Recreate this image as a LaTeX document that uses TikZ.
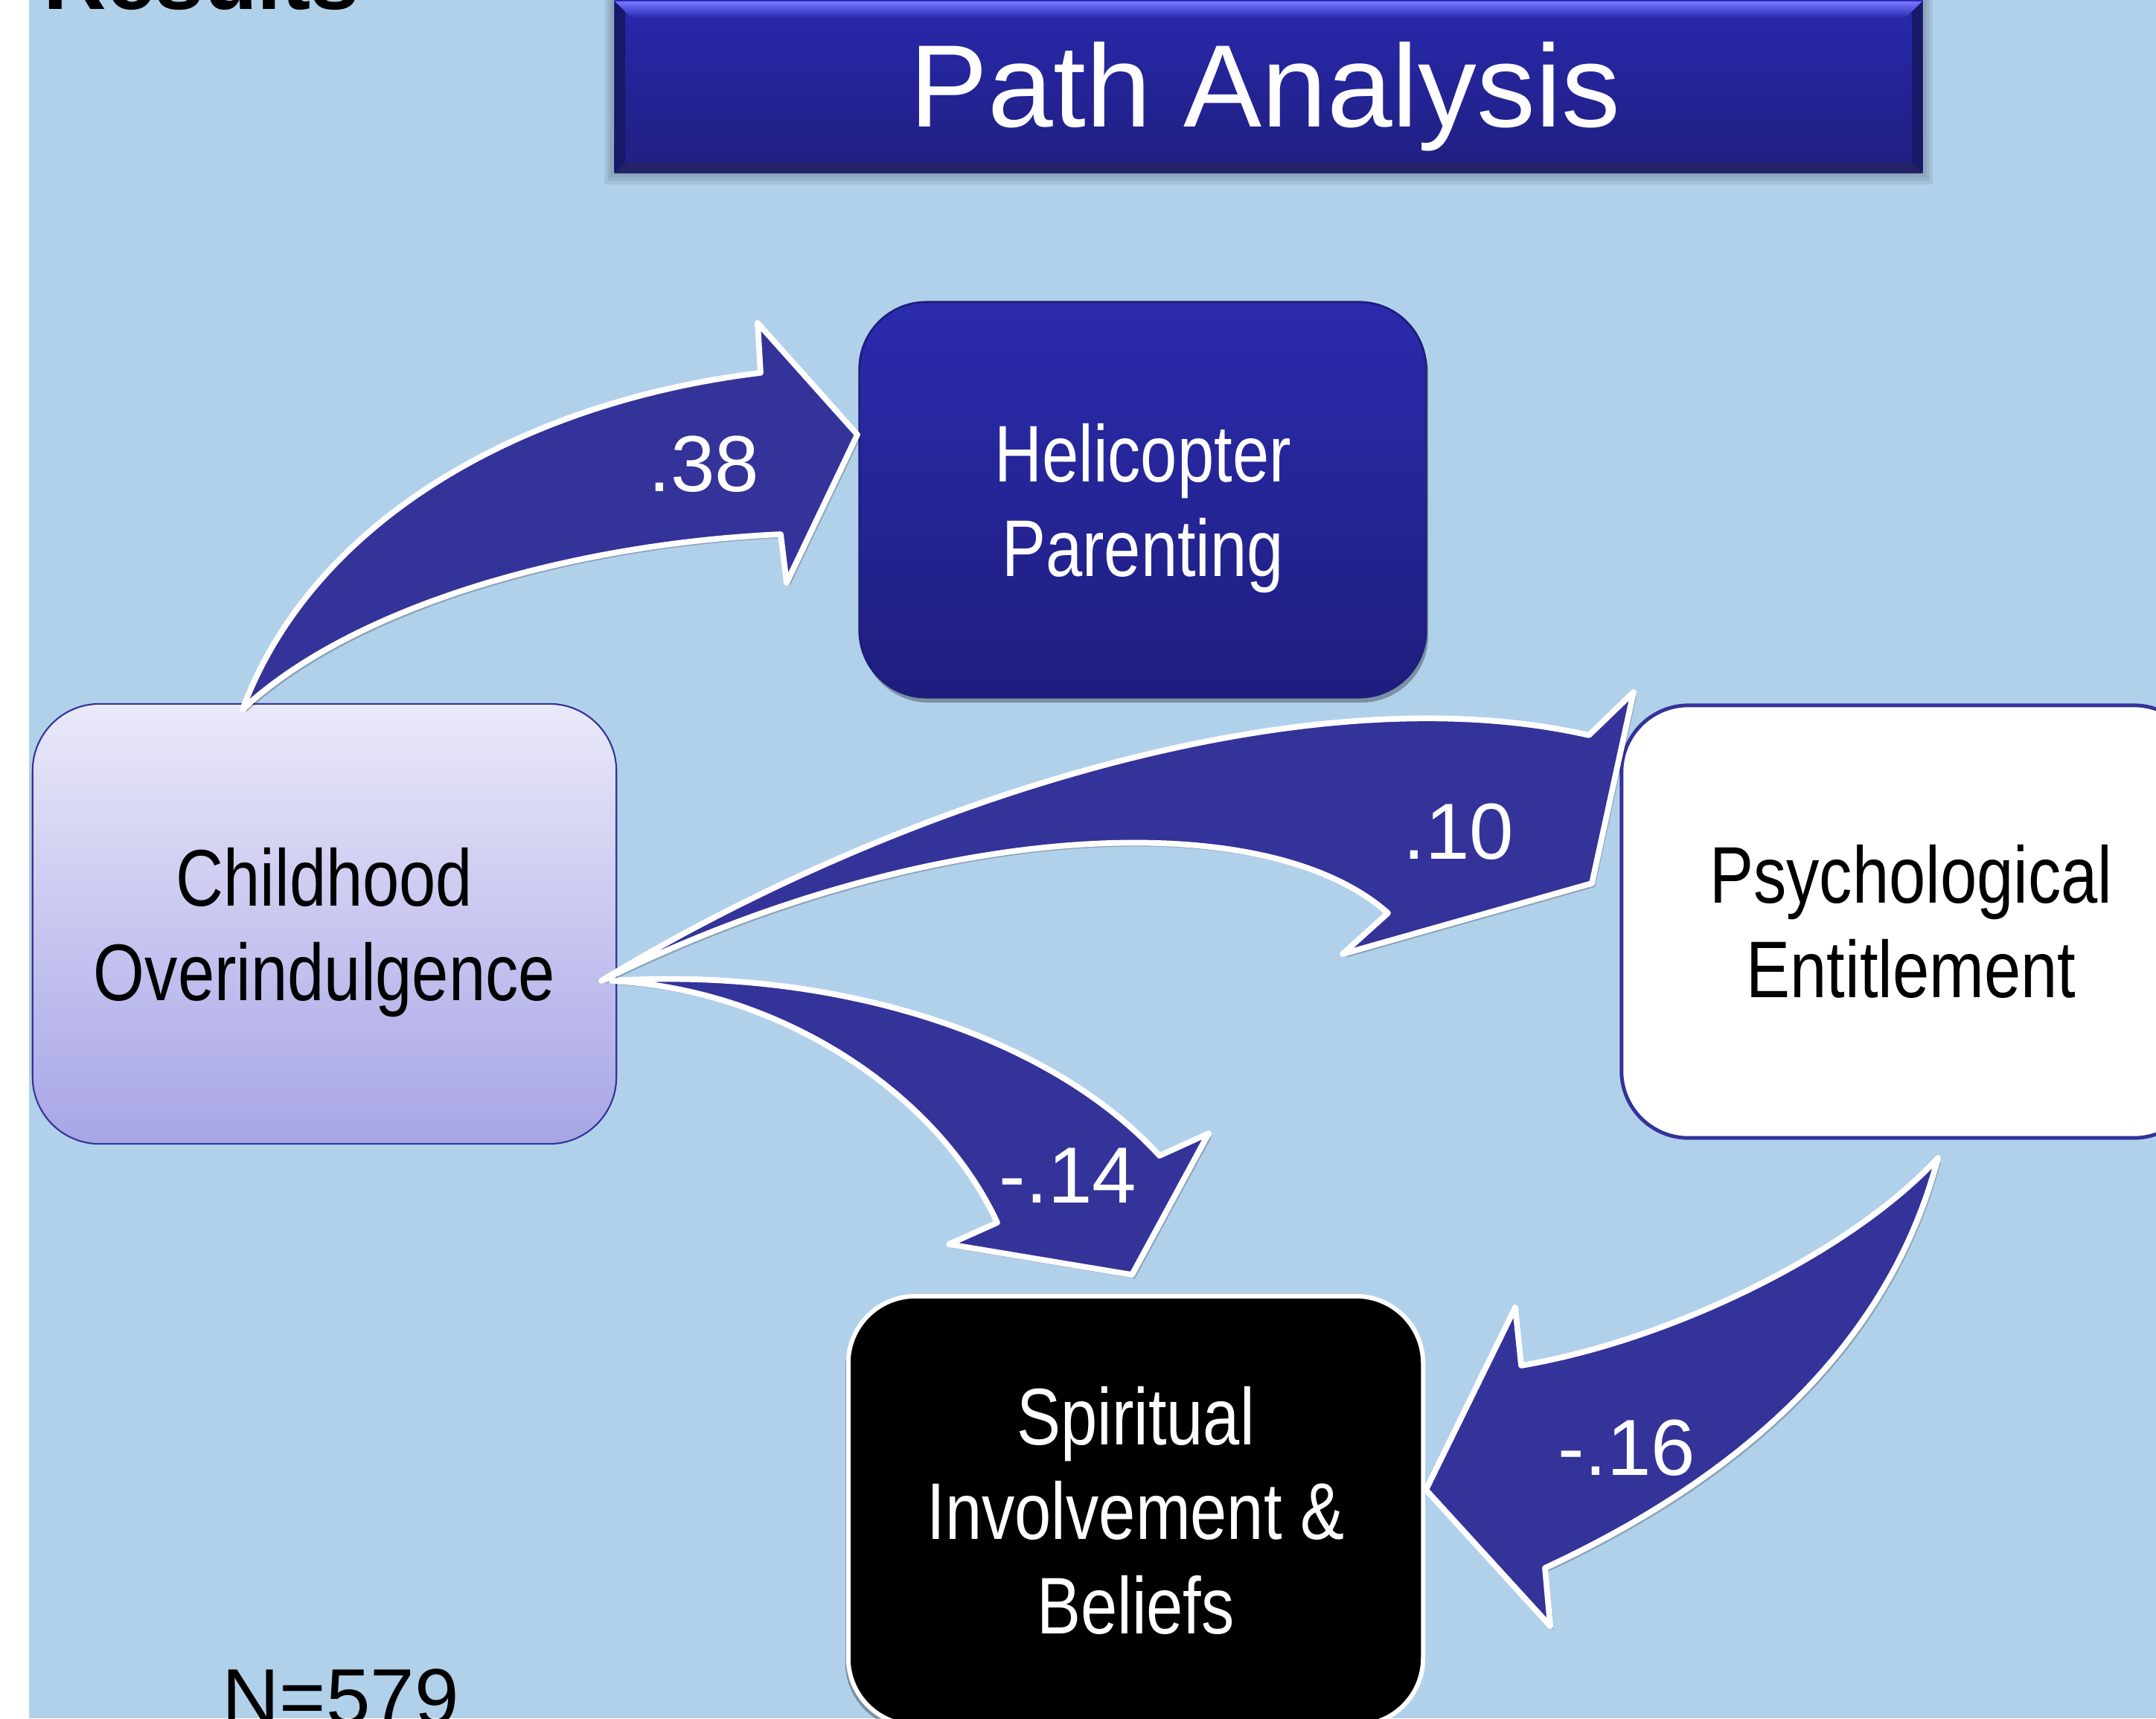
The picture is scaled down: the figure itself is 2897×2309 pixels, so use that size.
\documentclass[tikz,border=0pt]{standalone}
\usepackage{fontspec}
\setmainfont{Liberation Sans}
\newfontfamily\narrowfont[FakeStretch=0.82]{Liberation Sans}
\definecolor{bgblue}{RGB}{177,209,234}
\definecolor{arrowblue}{RGB}{52,51,153}
\definecolor{helitop}{RGB}{43,43,174}
\definecolor{helibot}{RGB}{30,30,126}
\definecolor{childtop}{RGB}{233,233,249}
\definecolor{childbot}{RGB}{168,165,230}
\definecolor{boxline}{RGB}{51,51,153}
\definecolor{titletop}{RGB}{41,41,176}
\definecolor{titlebot}{RGB}{31,31,128}
\definecolor{titlehl}{RGB}{118,118,255}
\definecolor{titleedge}{RGB}{24,24,104}
\definecolor{titlebase}{RGB}{34,34,102}
\begin{document}
\begin{tikzpicture}[x=0.01cm,y=-0.01cm,
  boxstyle/.style={rectangle, rounded corners=0.9cm, align=center, inner sep=0pt,
    font=\narrowfont\fontsize{30.7}{36.1}\selectfont},
  helibox/.style={boxstyle, top color=helitop, bottom color=helibot, draw=helibot, line width=0.8pt,
    text=white, preaction={fill=black, opacity=0.3, transform canvas={shift={(3,7)}}}},
  childbox/.style={boxstyle, top color=childtop, bottom color=childbot, draw=boxline, line width=0.6pt},
  psychbox/.style={boxstyle, fill=white, draw=boxline, line width=1.4pt},
  spiritbox/.style={boxstyle, fill=black, draw=white, line width=1.7pt, text=white,
    preaction={fill=black, opacity=0.3, transform canvas={shift={(-4,6)}}}},
  blockarrow/.style={fill=arrowblue, draw=white, line width=2.2pt, line join=round,
    preaction={fill=black, opacity=0.22, transform canvas={shift={(4,5)}}}},
  pathlabel/.style={text=white, inner sep=0pt, font=\fontsize{30.4}{36}\selectfont},
  softshadow/.style={fill=black, opacity=0.07}
]
\useasboundingbox (0,0) rectangle (2897,2309);
% background
\fill[white] (0,0) rectangle (2897,2309);
\fill[bgblue] (39,0) rectangle (2897,2309);

% heading text cut at top
\node (results) [anchor=base west, inner sep=0pt, font=\bfseries\fontsize{33.4}{40}\selectfont] at (58,13) {Results};

% title bar with soft shadow
\fill[softshadow] (812,-5) rectangle (2597,248);
\fill[softshadow] (816,-5) rectangle (2593,243);
\fill[softshadow] (820,-5) rectangle (2589,238);
\node (titlebox) [rectangle, minimum width=17.57cm, minimum height=2.47cm, inner sep=0pt,
  top color=titletop, bottom color=titlebot] at (1704.5,108.5) {};
\shade[top color=titlehl, bottom color=titletop] (826,2) -- (2583,2) -- (2560,24) -- (849,24) -- cycle;
\fill[titleedge] (2583,2) -- (2583,232) -- (2569,218) -- (2569,16) -- cycle;
\fill[titleedge] (826,2) -- (826,232) -- (840,218) -- (840,16) -- cycle;
\fill[titlebase] (826,232) -- (2583,232) -- (2569,219) -- (840,219) -- cycle;
\node (title) [anchor=base, inner sep=0pt, text=white, font=\fontsize{44.8}{54}\selectfont] at (1700,170) {Path Analysis};

% boxes
\node (helic) [helibox, minimum width=7.61cm, minimum height=5.31cm] at (1535.5,671.5) {Helicopter\\\smash{Parenting}};
\node (child) [childbox, minimum width=7.84cm, minimum height=5.91cm] at (436,1241.5) {Childhood\\\smash{Overindulgence}};
\node (psych) [psychbox, minimum width=7.78cm, minimum height=5.81cm] at (2568,1238.5) {Psychological\\Entitlement};
\node (spirit) [spiritbox, minimum width=7.72cm, minimum height=5.76cm] at (1526,2030) {Spiritual\\Involvement \&\\Beliefs};

% arrow end points
\coordinate (a1tail) at (326,953);
\coordinate (a1tip) at (1152,584);
\coordinate (a2tail) at (808,1318);
\coordinate (a2tip) at (2139,1187);
\coordinate (a3tail) at (822,1318);
\coordinate (a3tip) at (1521,1713);
\coordinate (a4tail) at (2604,1556);
\coordinate (a4tip) at (1916,2002);

% block arrows
\path[blockarrow] (a1tail) .. controls (420,700) and (700,540) .. (1022,501) -- (1018,434) -- (a1tip)
  -- (1057,783) -- (1049,718) .. controls (780,730) and (480,810) .. (a1tail) -- cycle;
\path[blockarrow] (a2tail) .. controls (1200,1080) and (1750,900) .. (2135,988) -- (2195,930) -- (a2tip)
  -- (1804,1282) -- (1865,1227) .. controls (1700,1080) and (1250,1100) .. (a2tail) -- cycle;
\path[blockarrow] (a3tail) .. controls (1100,1300) and (1400,1380) .. (1558,1553) -- (1624,1523) -- (a3tip)
  -- (1275,1672) -- (1340,1643) .. controls (1260,1470) and (1050,1330) .. (a3tail) -- cycle;
\path[blockarrow] (a4tail) .. controls (2540,1800) and (2350,1980) .. (2076,2107) -- (2083,2185) -- (a4tip)
  -- (2036,1757) -- (2044,1835) .. controls (2250,1800) and (2490,1680) .. (a4tail) -- cycle;

% path coefficients
\node (l38) [pathlabel] at (946,624) {.38};
\node (l10) [pathlabel] at (1960,1118) {.10};
\node (l14) [pathlabel] at (1435,1580) {-.14};
\node (l16) [pathlabel] at (2186,1946) {-.16};

% sample size
\node (nsize) [anchor=base west, inner sep=0pt, font=\fontsize{30.4}{36}\selectfont] at (298,2317) {N=579};
\end{tikzpicture}
\end{document}
